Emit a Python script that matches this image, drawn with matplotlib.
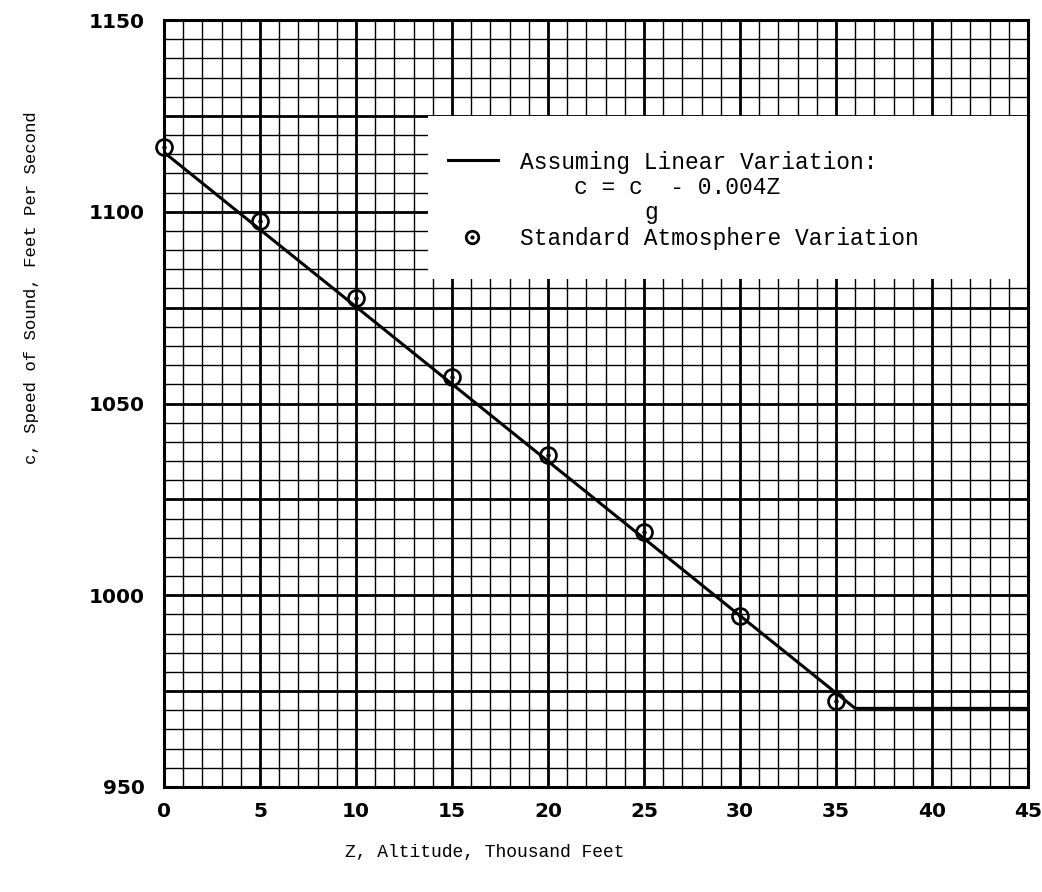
import numpy as np
import matplotlib.pyplot as plt
from matplotlib.patches import Rectangle

# standard atmosphere points (altitude in thousand ft, speed in ft/s)
alt_pts = [0, 5, 10, 15, 20, 25, 30, 35]
speed_pts = [1117, 1097.5, 1077.5, 1057, 1036.5, 1016.5, 994.5, 972.5]

# linear variation line, flat above the tropopause
line_alt = [0, 36, 45]
line_speed = [1115.5, 970.5, 970.5]

x_ticks = [0, 5, 10, 15, 20, 25, 30, 35, 40, 45]
y_ticks = [950, 1000, 1050, 1100, 1150]

mono = 'Liberation Mono'

fig = plt.figure(figsize=(10.42, 8.92), dpi=100)
ax = fig.add_axes([164/1042, 105/892, 864/1042, 767/892])
ax.set_xlim(0, 45)
ax.set_ylim(950, 1150)

# graph paper grid
for x in np.arange(0, 46, 1):
    lw = 2.0 if x % 5 == 0 else 1.0
    ax.axvline(x, color='black', lw=lw, zorder=1)
for y in np.arange(950, 1151, 5):
    lw = 2.0 if y % 25 == 0 else 1.0
    ax.axhline(y, color='black', lw=lw, zorder=1)

for s in ax.spines.values():
    s.set_linewidth(2.2)

ax.set_xticks(x_ticks)
ax.set_yticks(y_ticks)
ax.tick_params(length=0, labelsize=14.5)
ax.tick_params(axis='y', pad=14)
ax.tick_params(axis='x', pad=11)
for lab in ax.get_xticklabels() + ax.get_yticklabels():
    lab.set_fontweight('bold')
    lab.set_fontfamily('DejaVu Sans')

ax.plot(line_alt, line_speed, color='black', lw=2.2, zorder=3)
ax.plot(alt_pts, speed_pts, linestyle='none', marker='o', markersize=11.5,
        markerfacecolor='none', markeredgecolor='black', markeredgewidth=1.9,
        zorder=4, clip_on=False)
ax.plot(alt_pts, speed_pts, linestyle='none', marker='o', markersize=2.2,
        color='black', zorder=5, clip_on=False)

# legend box drawn by hand
ax.add_patch(Rectangle((13.75, 1082.5), 45 - 13.75, 1125 - 1082.5,
                       facecolor='white', edgecolor='none', zorder=2))

def px(x, y):
    return (x / 1042, 1 - y / 892)

fig.add_artist(plt.Line2D([448/1042, 498/1042], [1 - 160/892, 1 - 160/892],
                          color='black', lw=2.2, transform=fig.transFigure))
fig.add_artist(plt.Line2D([472/1042], [1 - 237/892], marker='o', markersize=9,
                          markerfacecolor='none', markeredgecolor='black',
                          markeredgewidth=2, transform=fig.transFigure))
fig.add_artist(plt.Line2D([472/1042], [1 - 237/892], marker='o', markersize=2,
                          color='black', transform=fig.transFigure))

fig.text(*px(520, 162), 'Assuming Linear Variation:', family=mono, fontsize=16.5,
         va='center', ha='left')
fig.text(*px(574, 188), 'c = c  - 0.004Z', family=mono, fontsize=16.5,
         va='center', ha='left')
fig.text(*px(651, 212), 'g', family=mono, fontsize=16.5, va='center', ha='center')
fig.text(*px(520, 238), 'Standard Atmosphere Variation', family=mono, fontsize=16.5,
         va='center', ha='left')

fig.text(*px(485, 852), 'Z, Altitude, Thousand Feet', family=mono, fontsize=13,
         va='center', ha='center')
fig.text(*px(32, 288), 'c, Speed of Sound, Feet Per Second', family=mono,
         fontsize=12.5, va='center', ha='center', rotation=90)

fig.savefig('out.png', dpi=100, facecolor='white')
